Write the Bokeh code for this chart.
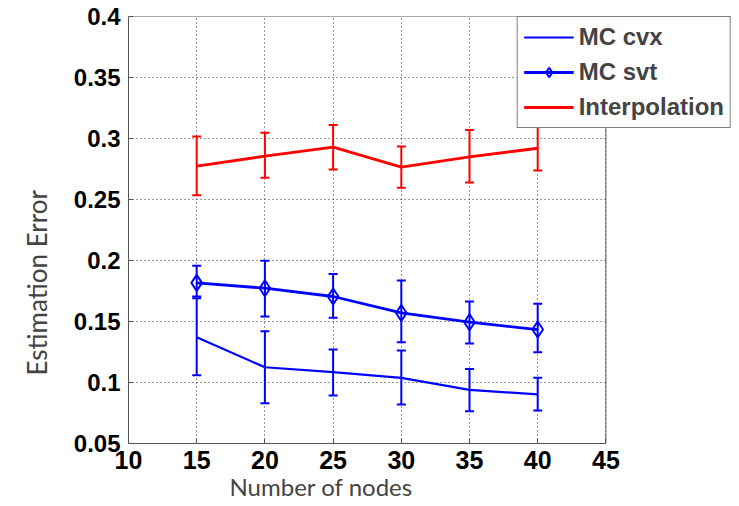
from bokeh.plotting import figure
from bokeh.models import (ColumnDataSource, Whisker, TeeHead, Legend, LegendItem, Title,
                          FixedTicker, Range1d, BoxAnnotation, Span)
from bokeh.embed import file_html
from bokeh.resources import INLINE

nodes = [15, 20, 25, 30, 35, 40]
cvx_mean = [0.137, 0.1125, 0.1085, 0.1038, 0.094, 0.0902]
cvx_lower = [0.106, 0.083, 0.0893, 0.082, 0.0765, 0.077]
cvx_upper = [0.169, 0.142, 0.127, 0.1262, 0.111, 0.1038]
svt_mean = [0.1817, 0.1773, 0.1705, 0.157, 0.1494, 0.1434]
svt_lower = [0.1705, 0.154, 0.153, 0.133, 0.132, 0.1248]
svt_upper = [0.1956, 0.1997, 0.189, 0.1836, 0.1664, 0.1645]
interp_mean = [0.2773, 0.2855, 0.293, 0.2765, 0.285, 0.292]
interp_lower = [0.2535, 0.2678, 0.2746, 0.2596, 0.264, 0.2738]
interp_upper = [0.3016, 0.3047, 0.311, 0.2934, 0.307, 0.310]
x_ticks = [10, 15, 20, 25, 30, 35, 40, 45]
y_ticks = [0.05, 0.1, 0.15, 0.2, 0.25, 0.3, 0.35, 0.4]

TICK_FONT = "Liberation Sans"
LABEL_FONT = "Lato"
AX_COLOR = "#555555"

X0, X1 = 10, 45
Y0, Y1 = 0.05, 0.4
# the frame is widened to the right so that the legend can overhang the axes box
# as in the reference; the visible box still ends at X1
BOX_PX, EXTRA_PX = 479, 126
x_end = X1 + (X1 - X0) * EXTRA_PX / BOX_PX

p = figure(width=739, height=506, output_backend="svg", toolbar_location=None,
           x_range=Range1d(X0, x_end), y_range=Range1d(Y0, Y1),
           min_border_left=126, min_border_right=8, min_border_top=16, min_border_bottom=63)
p.background_fill_color = "white"
p.border_fill_color = "white"
p.outline_line_color = None

for ax in (p.xaxis, p.yaxis):
    ax.major_label_text_font = TICK_FONT
    ax.major_label_text_font_style = "bold"
    ax.major_label_text_color = "black"
    ax.axis_line_color = AX_COLOR
    ax.major_tick_in = 5
    ax.major_tick_out = 0
    ax.minor_tick_line_color = None
    ax.major_tick_line_color = AX_COLOR
p.xaxis.major_label_text_font_size = "25px"
p.yaxis.major_label_text_font_size = "24px"
p.xaxis.bounds = (X0, X1)
p.xaxis.ticker = FixedTicker(ticks=x_ticks)
p.yaxis.ticker = FixedTicker(ticks=y_ticks)
p.xaxis.major_label_overrides = {t: str(t) for t in x_ticks}
p.yaxis.major_label_overrides = {t: ("%g" % t) for t in y_ticks}
p.xaxis.major_label_standoff = 7
p.yaxis.major_label_standoff = 8

for g in (p.xgrid, p.ygrid):
    g.grid_line_color = "#333333"
    g.grid_line_dash = "1 3"
    g.grid_line_width = 1

def add_series(mean, lower, upper, color, width, marker=False):
    src = ColumnDataSource(dict(x=nodes, y=mean, lo=lower, hi=upper))
    w = Whisker(source=src, base="x", lower="lo", upper="hi", line_color=color, line_width=2,
                upper_head=TeeHead(size=9, line_color=color, line_width=2),
                lower_head=TeeHead(size=9, line_color=color, line_width=2))
    p.add_layout(w)
    r = [p.line("x", "y", source=src, line_color=color, line_width=width)]
    if marker:
        r.append(p.scatter("x", "y", source=src, marker="diamond", size=16,
                           fill_color=None, line_color=color, line_width=2))
    return r

r_cvx = add_series(cvx_mean, cvx_lower, cvx_upper, "#0000ff", 2.2)
r_svt = add_series(svt_mean, svt_lower, svt_upper, "#0000ff", 2.8, marker=True)
r_int = add_series(interp_mean, interp_lower, interp_upper, "#ff0000", 2.8)

# blank the widened area right of the axes box, then draw the box's top/right edges
p.add_layout(BoxAnnotation(left=X1, fill_color="white", fill_alpha=1, line_color=None))
p.add_layout(Span(location=X1, dimension="height", line_color=AX_COLOR, line_width=1))
p.add_layout(Span(location=Y1, dimension="width", line_color=AX_COLOR, line_width=1))

legend = Legend(items=[LegendItem(label="MC cvx", renderers=r_cvx),
                       LegendItem(label="MC svt", renderers=r_svt),
                       LegendItem(label="Interpolation", renderers=r_int)],
                location="top_right")
legend.label_text_font = TICK_FONT
legend.label_text_font_style = "bold"
legend.label_text_font_size = "24px"
legend.glyph_width = 50
legend.glyph_height = 24
legend.label_standoff = 5
legend.spacing = 7
legend.padding = 6
legend.margin = 0
legend.border_line_color = "black"
legend.border_line_width = 1
legend.background_fill_color = "white"
legend.background_fill_alpha = 1
p.add_layout(legend, "center")

p.add_layout(Title(text="Number of nodes", align="left", offset=101, text_font=LABEL_FONT,
                   text_font_size="24px", text_font_style="normal", standoff=-3), "below")
p.add_layout(Title(text="Estimation Error", align="left", offset=68, text_font=LABEL_FONT,
                   text_font_size="26px", text_font_style="normal", standoff=36), "left")

open("out.html", "w").write(file_html(p, INLINE))
